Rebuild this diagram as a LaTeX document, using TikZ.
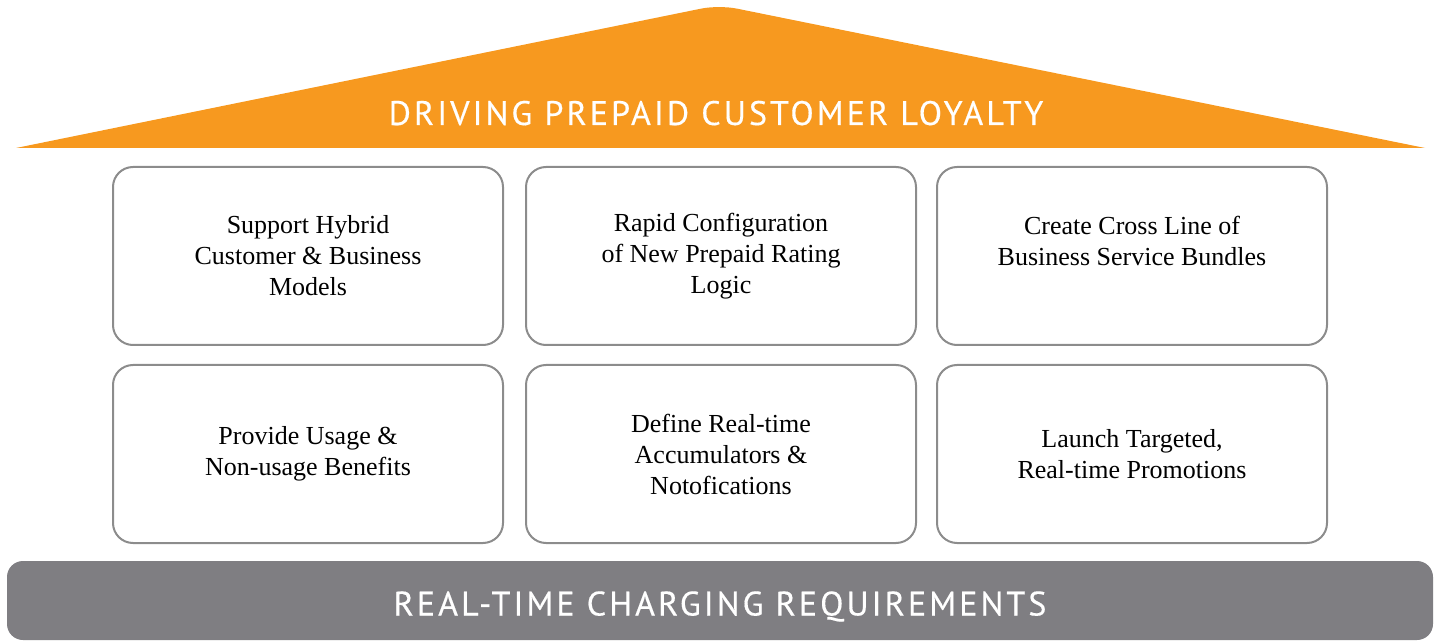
\documentclass[tikz,border=0pt]{standalone}
\usepackage{fontspec}
\setmainfont{Liberation Serif}
\newfontfamily\headfont[LetterSpace=9,FakeBold=0.4]{PT Sans}
\usetikzlibrary{positioning}
\definecolor{roofcol}{HTML}{F7991F}
\definecolor{basecol}{HTML}{7F7E82}
\definecolor{framecol}{HTML}{8C8C8C}

\begin{document}
\begin{tikzpicture}[x=0.5pt,y=-0.5pt,
  goal/.style={draw=framecol, line width=1pt, rounded corners=10pt,
    minimum width=195pt, minimum height=89pt, align=center, inner sep=0pt,
    font=\fontsize{13}{15.5}\selectfont},
  banner/.style={text=white, inner sep=0pt, text height=12pt, text depth=0pt,
    font=\headfont\fontsize{17}{20}\selectfont}]

\useasboundingbox (0,0) rectangle (1440,641);

% roof
\fill[roofcol] (16,148) [rounded corners=9pt]-- (719,5) [sharp corners]-- (1425,148) -- cycle;
\node[banner] (roof) at (716,113) {DRIVING PREPAID CUSTOMER LOYALTY};

% goals, top row
\node[goal] (hybrid) at (308,256) {Support Hybrid\\Customer \& Business\\Models};
\node[goal, right=10.5pt of hybrid] (rating) {Rapid Configuration\\of New Prepaid Rating\\Logic};
\node[goal, right=9.5pt of rating] (bundles) {Create Cross Line of\\Business Service Bundles\\\mbox{}};

% goals, bottom row
\node[goal, below=9pt of hybrid] (benefits) {Provide Usage \&\\Non-usage Benefits};
\node[goal, below=9pt of rating] (accum) {Define Real-time\\Accumulators \&\\Notofications};
\node[goal, below=9pt of bundles] (promo) {Launch Targeted,\\Real-time Promotions};

% base
\fill[basecol, rounded corners=8pt] (7,561) rectangle (1433,640);
\node[banner] (base) at (720,603.5) {REAL-TIME CHARGING REQUIREMENTS};

\end{tikzpicture}
\end{document}
